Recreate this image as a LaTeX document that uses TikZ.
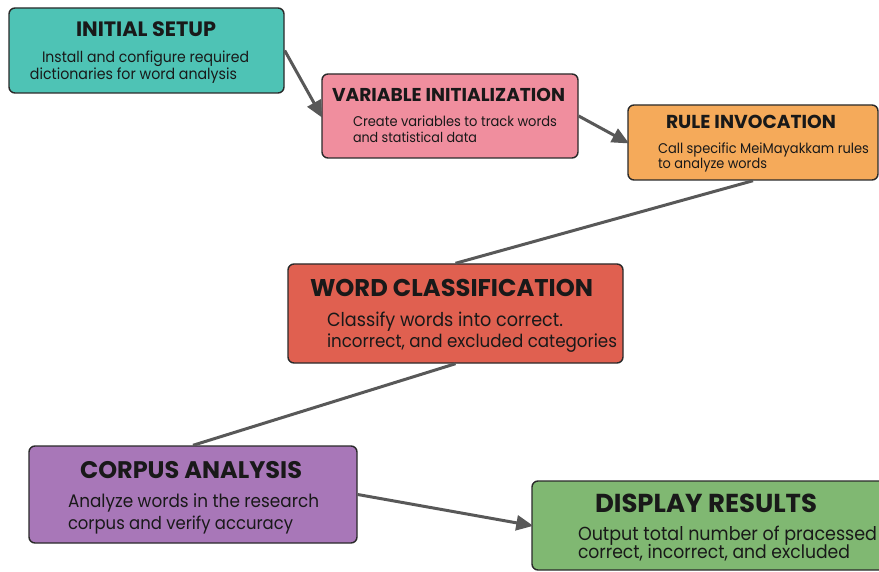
\documentclass[tikz,border=0pt]{standalone}
\usepackage{fontspec}
\setmainfont{Poppins}
\usepackage{graphicx}
\usetikzlibrary{arrows.meta}
\definecolor{cTeal}{HTML}{4EC3B5}
\definecolor{cPink}{HTML}{F08E9E}
\definecolor{cOrange}{HTML}{F5AA5A}
\definecolor{cRed}{HTML}{E06050}
\definecolor{cPurple}{HTML}{A877B8}
\definecolor{cGreen}{HTML}{80B872}
\definecolor{cEdge}{HTML}{2A2A2A}
\definecolor{cLink}{HTML}{585858}
\newcommand\fitw[2]{\scalebox{1}[1.08]{\resizebox{#1pt}{!}{#2}}}
\newcommand\fitt[2]{\resizebox{#1pt}{!}{\bfseries #2}}
\tikzset{
  box/.style={draw=cEdge, line width=1.4pt, rounded corners=6pt, inner sep=0pt},
  txt/.style={anchor=base west, inner sep=0pt, outer sep=0pt, text=black!90},
  link/.style={draw=cLink, line width=3pt},
  arrowlink/.style={link, -{Triangle[length=17pt,width=15pt]}, shorten >=-2pt}
}
\begin{document}
\begin{tikzpicture}[x=1pt,y=-1pt]
\useasboundingbox (0,0) rectangle (879,572);
\clip (0,0) rectangle (879,572);
% boxes
\node[box, fill=cTeal, minimum width=275pt, minimum height=85pt] (init) at (146.5,50.5) {};
\node[box, fill=cPink, minimum width=256pt, minimum height=84pt] (var) at (450,116) {};
\node[box, fill=cOrange, minimum width=250pt, minimum height=75pt] (rule) at (753,142.5) {};
\node[box, fill=cRed, minimum width=335pt, minimum height=99pt] (word) at (455.5,313.5) {};
\node[box, fill=cPurple, minimum width=328pt, minimum height=97pt] (corp) at (193,494.5) {};
\node[box, fill=cGreen, minimum width=368pt, minimum height=89pt] (disp) at (716,525.5) {};
% texts
\node[txt] (initT) at (76,37) {\fitt{140}{INITIAL SETUP}};
\node[txt] (initA) at (42,63) {\fitw{207}{Install and configure required}};
\node[txt] (initB) at (30,80) {\fitw{207}{dictionaries for word analysis}};

\node[txt] (varT) at (332,102) {\fitt{233}{VARIABLE INITIALIZATION}};
\node[txt] (varA) at (353,127) {\fitw{204}{Create variables to track words}};
\node[txt] (varB) at (353,143) {\fitw{124}{and statistical data}};

\node[txt] (ruleT) at (666,129) {\fitt{170}{RULE INVOCATION}};
\node[txt] (ruleA) at (658,154) {\fitw{211}{Call specific MeiMayakkam rules}};
\node[txt] (ruleB) at (658,169) {\fitw{109}{to analyze words}};

\node[txt] (wordT) at (310,297) {\fitt{283}{WORD CLASSIFICATION}};
\node[txt] (wordA) at (327,327) {\fitw{236}{Classify words into correct.}};
\node[txt] (wordB) at (327,347) {\fitw{290}{incorrect, and excluded categories}};

\node[txt] (corpT) at (80,478) {\fitt{222}{CORPUS ANALYSIS}};
\node[txt] (corpA) at (68,507) {\fitw{251}{Analyze words in the research}};
\node[txt] (corpB) at (68,529) {\fitw{225}{corpus and verify accuracy}};

\node[txt] (dispT) at (595,512) {\fitt{222}{DISPLAY RESULTS}};
\node[txt] (dispA) at (578,540) {\fitw{299}{Output total number of pracessed}};
\node[txt] (dispB) at (578,558) {\fitw{272}{correct, incorrect, and excluded}};
% connectors
\draw[arrowlink] (init.east) -- (var.west);
\draw[arrowlink] (var.east) -- (rule.west);
\draw[link] (rule.south) -- (word.north);
\draw[link] (word.south) -- (corp.north);
\draw[arrowlink] (corp.east) -- (disp.west);
\end{tikzpicture}
\end{document}
